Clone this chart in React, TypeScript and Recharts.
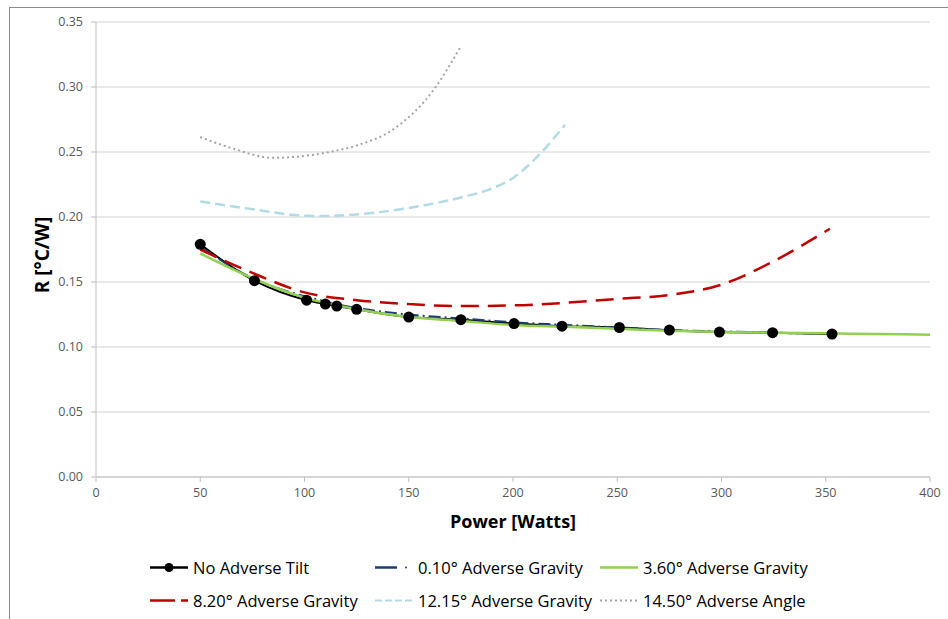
import React from 'react';
import { LineChart, Line, XAxis, YAxis, CartesianGrid } from 'recharts';

// No Adverse Tilt (measured points, with markers)
const noTiltPower = [50, 76, 101, 110, 115.5, 125, 150, 175, 200.5, 223.5, 251, 275, 299, 324.5, 353];
const noTiltR = [0.179, 0.151, 0.136, 0.133, 0.1315, 0.129, 0.123, 0.121, 0.118, 0.116, 0.115, 0.113, 0.1115, 0.111, 0.110];

// 0.10° Adverse Gravity
const g010Power = [50, 75, 100, 110, 115, 125, 150, 175, 200, 225, 250, 275, 300, 325, 353];
const g010R = [0.177, 0.153, 0.139, 0.135, 0.133, 0.130, 0.125, 0.122, 0.119, 0.117, 0.115, 0.113, 0.112, 0.111, 0.110];

// 3.60° Adverse Gravity
const g360Power = [50, 75, 100, 125, 150, 175, 200, 225, 250, 275, 300, 325, 350, 375, 400];
const g360R = [0.172, 0.153, 0.138, 0.129, 0.123, 0.120, 0.117, 0.1155, 0.114, 0.1125, 0.1115, 0.111, 0.1105, 0.110, 0.1095];

// 8.20° Adverse Gravity
const g820Power = [50, 75, 100, 125, 150, 175, 200, 225, 250, 275, 300, 325, 352];
const g820R = [0.175, 0.157, 0.142, 0.136, 0.133, 0.1315, 0.132, 0.134, 0.137, 0.140, 0.148, 0.166, 0.191];

// 12.15° Adverse Gravity
const g1215Power = [50, 75, 100, 110, 125, 150, 175, 190, 200, 212, 225];
const g1215R = [0.212, 0.206, 0.201, 0.2008, 0.202, 0.207, 0.215, 0.222, 0.230, 0.247, 0.271];

// 14.50° Adverse Angle
const a1450Power = [50, 65, 85, 100, 112, 125, 144, 162, 174.5];
const a1450R = [0.2615, 0.253, 0.2455, 0.247, 0.25, 0.255, 0.269, 0.298, 0.330];

const xTicks = [0, 50, 100, 150, 200, 250, 300, 350, 400];
const yTicks = [0, 0.05, 0.1, 0.15, 0.2, 0.25, 0.3, 0.35];

const toPoints = (xs: number[], ys: number[]) => xs.map((x, i) => ({ power: x, r: ys[i] }));

const series = [
    { name: 'No Adverse Tilt', data: toPoints(noTiltPower, noTiltR), color: '#000000', width: 2, dash: undefined, dot: true },
    { name: '0.10° Adverse Gravity', data: toPoints(g010Power, g010R), color: '#1f3b73', width: 2, dash: '12 4 2 4', dot: false },
    { name: '3.60° Adverse Gravity', data: toPoints(g360Power, g360R), color: '#92d050', width: 2.5, dash: undefined, dot: false },
    { name: '8.20° Adverse Gravity', data: toPoints(g820Power, g820R), color: '#c00000', width: 2.5, dash: '18 9', dot: false },
    { name: '12.15° Adverse Gravity', data: toPoints(g1215Power, g1215R), color: '#b3dbe6', width: 2.5, dash: '10 5', dot: false },
    { name: '14.50° Adverse Angle', data: toPoints(a1450Power, a1450R), color: '#a6a6a6', width: 2, dash: '2 3', dot: false },
];

const legendPos = [
    { left: 150, top: 567 },
    { left: 375, top: 567 },
    { left: 600, top: 567 },
    { left: 150, top: 600 },
    { left: 375, top: 600 },
    { left: 600, top: 600 },
];

const font = "'Open Sans', 'Noto Sans', sans-serif";

const LegendIcon = ({ idx }: { idx: number }) => {
    const s = series[idx];
    return (
        <svg width={40} height={12} style={{ display: 'block' }}>
            {idx === 1 ? (
                <>
                    <line x1={0} y1={6} x2={22} y2={6} stroke={s.color} strokeWidth={2.5} />
                    <circle cx={31} cy={6} r={1} fill={s.color} />
                </>
            ) : idx === 3 ? (
                <>
                    <line x1={0} y1={6} x2={25} y2={6} stroke={s.color} strokeWidth={2.5} />
                    <line x1={31} y1={6} x2={38} y2={6} stroke={s.color} strokeWidth={2.5} />
                </>
            ) : (
                <line x1={0} y1={6} x2={38} y2={6} stroke={s.color} strokeWidth={s.dash ? 2 : 2.5} strokeDasharray={idx === 4 ? '7 3' : s.dash} />
            )}
            {idx === 0 && <circle cx={19} cy={6} r={4.5} fill="#000" />}
        </svg>
    );
};

const App = () => {
    return (
        <div style={{ position: 'absolute', left: 0, top: 0, width: 948, height: 619, background: '#fff', fontFamily: font }}>
            <div style={{ position: 'absolute', left: 9, top: 7, width: 960, height: 640, borderTop: '1px solid #8c8c8c', borderLeft: '1px solid #8c8c8c' }} />
            <div style={{ position: 'absolute', left: 0, top: 0 }}>
                <LineChart width={948} height={619} margin={{ top: 22, right: 18, bottom: 112, left: 36 }}>
                    <CartesianGrid vertical={false} stroke="#d4d4d4" strokeWidth={1.2} />
                    <XAxis
                        dataKey="power"
                        type="number"
                        domain={[0, 400]}
                        ticks={xTicks}
                        height={30}
                        stroke="#bfbfbf"
                        tickSize={5}
                        tickMargin={6}
                        tick={{ fill: '#595959', fontSize: 12.5, fontFamily: font }}
                        allowDuplicatedCategory={false}
                    />
                    <YAxis
                        type="number"
                        domain={[0, 0.35]}
                        ticks={yTicks}
                        width={60}
                        stroke="#bfbfbf"
                        tickSize={5}
                        tickMargin={8}
                        tickFormatter={(v: number) => v.toFixed(2)}
                        tick={{ fill: '#595959', fontSize: 12.5, fontFamily: font }}
                    />
                    {series.map((s) => (
                        <Line
                            key={s.name}
                            data={s.data}
                            dataKey="r"
                            name={s.name}
                            type="monotone"
                            stroke={s.color}
                            strokeWidth={s.width}
                            strokeDasharray={s.dash}
                            dot={s.dot ? { r: 5.5, fill: '#000', stroke: '#000', strokeWidth: 0 } : false}
                            activeDot={false}
                            isAnimationActive={false}
                        />
                    ))}
                </LineChart>
            </div>
            <div style={{ position: 'absolute', left: 513, top: 521, transform: 'translate(-50%, -50%)', fontWeight: 700, fontSize: 18, whiteSpace: 'nowrap', color: '#000' }}>
                Power [Watts]
            </div>
            <div style={{ position: 'absolute', left: 42, top: 255, transform: 'translate(-50%, -50%) rotate(-90deg)', fontWeight: 700, fontSize: 19, whiteSpace: 'nowrap', color: '#000' }}>
                R [°C/W]
            </div>
            {series.map((s, i) => (
                <div key={s.name} style={{ position: 'absolute', left: legendPos[i].left, top: legendPos[i].top, transform: 'translateY(-50%)', display: 'flex', alignItems: 'center', whiteSpace: 'nowrap' }}>
                    <LegendIcon idx={i} />
                    <span style={{ marginLeft: 3, fontSize: 16.5, color: '#000' }}>{s.name}</span>
                </div>
            ))}
        </div>
    );
};

export default App;
